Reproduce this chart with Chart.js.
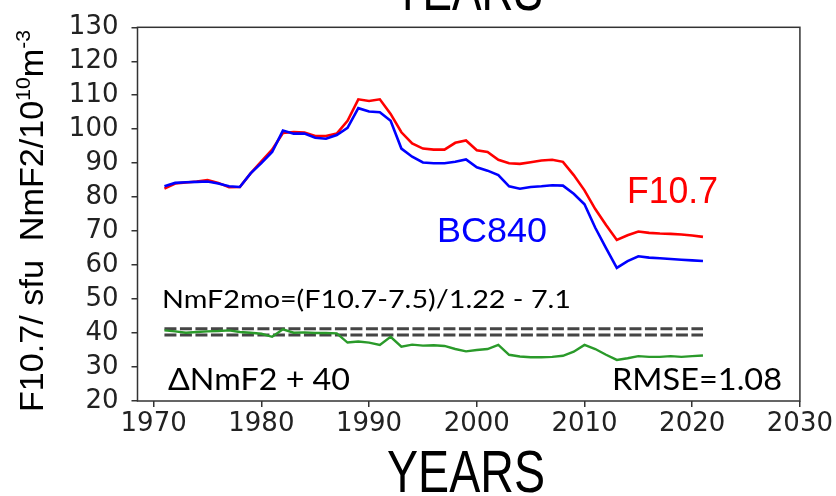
<!DOCTYPE html>
<html>
<head>
<meta charset="utf-8">
<script src="https://cdn.jsdelivr.net/npm/chart.js@4.4.1/dist/chart.umd.min.js"></script>
<style>
  html, body { margin: 0; padding: 0; background: #fff; }
  canvas { display: block; }
</style>
</head>
<body>
<canvas id="nmf2Chart" width="836" height="496"></canvas>
<script>
'use strict';

// yearly values
const years = [1971, 1972, 1973, 1974, 1975, 1976, 1977, 1978, 1979, 1980,
  1981, 1982, 1983, 1984, 1985, 1986, 1987, 1988, 1989, 1990,
  1991, 1992, 1993, 1994, 1995, 1996, 1997, 1998, 1999, 2000,
  2001, 2002, 2003, 2004, 2005, 2006, 2007, 2008, 2009, 2010,
  2011, 2012, 2013, 2014, 2015, 2016, 2017, 2018, 2019, 2020, 2021];

const f107Values = [82.5, 84.0, 84.3, 84.6, 85.0, 84.2, 82.9, 83.0, 87.0, 90.5,
  94.0, 98.9, 99.2, 99.0, 98.0, 98.0, 98.7, 102.5, 108.8, 108.3,
  108.8, 104.5, 99.1, 95.8, 94.3, 94.0, 94.0, 96.0, 96.7, 93.8,
  93.3, 91.0, 90.0, 89.8, 90.3, 90.8, 91.0, 90.4, 86.5, 82.0,
  76.5, 71.8, 67.4, 68.8, 69.9, 69.5, 69.3, 69.2, 69.0, 68.7, 68.3];

const bc840Values = [83.2, 84.2, 84.4, 84.5, 84.6, 84.0, 83.2, 83.0, 87.0, 90.0,
  93.3, 99.6, 98.7, 98.7, 97.5, 97.2, 98.3, 100.4, 106.2, 105.2,
  105.0, 102.5, 94.3, 91.9, 90.2, 90.0, 90.0, 90.4, 91.1, 88.8,
  87.8, 86.5, 83.2, 82.5, 83.0, 83.2, 83.5, 83.4, 81.0, 77.9,
  71.0, 65.0, 59.2, 61.2, 62.6, 62.2, 62.0, 61.8, 61.6, 61.4, 61.2];

// NmF2 difference shifted by +40
const deltaValues = [40.8, 40.5, 40.1, 40.3, 40.5, 40.6, 40.8, 40.3, 40.1, 39.8,
  38.9, 41.1, 40.1, 40.2, 40.0, 40.0, 39.9, 37.2, 37.5, 37.2,
  36.5, 38.9, 36.0, 36.6, 36.3, 36.4, 36.2, 35.3, 34.6, 35.0,
  35.3, 36.5, 33.6, 33.1, 32.9, 32.9, 33.0, 33.3, 34.5, 36.5,
  35.3, 33.6, 32.1, 32.6, 33.2, 33.0, 33.0, 33.2, 33.0, 33.2, 33.4];

// reference band around 40
const refYears = [1971, 2021];
const refUpper = [41.3, 41.3];
const refLower = [39.4, 39.4];

const xTicks = [1970, 1980, 1990, 2000, 2010, 2020, 2030];
const yTicks = [20, 30, 40, 50, 60, 70, 80, 90, 100, 110, 120, 130];

function toPoints(xs, ys) {
  return xs.map((x, i) => ({ x: x, y: ys[i] }));
}

// draw text squeezed/stretched to a given width
function fitText(ctx, text, left, baseline, width) {
  const w = ctx.measureText(text).width;
  ctx.save();
  ctx.translate(left, baseline);
  ctx.scale(width / w, 1);
  ctx.textAlign = 'left';
  ctx.textBaseline = 'alphabetic';
  ctx.fillText(text, 0, 0);
  ctx.restore();
}

const figureText = {
  id: 'figureText',
  afterDraw(chart) {
    const ctx = chart.ctx;
    const a = chart.chartArea;
    ctx.save();

    // axes frame
    ctx.strokeStyle = '#333';
    ctx.lineWidth = 1.5;
    ctx.strokeRect(a.left, a.top, a.right - a.left, a.bottom - a.top);

    // titles
    ctx.fillStyle = '#000';
    ctx.font = '60px "Liberation Sans", Arial, sans-serif';
    fitText(ctx, 'YEARS', 393, 10, 150);
    fitText(ctx, 'YEARS', 387, 492, 158);

    // series names
    ctx.font = '37px "Liberation Sans", Arial, sans-serif';
    ctx.fillStyle = '#ff0000';
    fitText(ctx, 'F10.7', 627, 203, 91);
    ctx.font = '35px "Liberation Sans", Arial, sans-serif';
    ctx.fillStyle = '#0000ff';
    fitText(ctx, 'BC840', 437, 242, 110);

    // formula and stats
    ctx.fillStyle = '#000';
    ctx.font = '25px Lato, "Open Sans", sans-serif';
    fitText(ctx, 'NmF2mo=(F10.7-7.5)/1.22 - 7.1', 162, 308, 409);
    ctx.font = '30px Lato, "Open Sans", sans-serif';
    fitText(ctx, '\u0394NmF2 + 40', 168, 390, 182);
    fitText(ctx, 'RMSE=1.08', 612, 390, 170);

    // rotated y label with superscripts
    const parts = [
      { t: 'F10.7/ sfu  NmF2/10', size: 34, rise: 0 },
      { t: '10', size: 21, rise: -13 },
      { t: 'm', size: 34, rise: 0 },
      { t: '-3', size: 21, rise: -13 }
    ];
    let total = 0;
    parts.forEach(p => {
      ctx.font = p.size + 'px "Liberation Sans", Arial, sans-serif';
      p.w = ctx.measureText(p.t).width;
      total += p.w;
    });
    ctx.translate(43, 412);
    ctx.rotate(-Math.PI / 2);
    ctx.scale(382 / total, 1);
    ctx.textAlign = 'left';
    ctx.textBaseline = 'alphabetic';
    let pos = 0;
    parts.forEach(p => {
      ctx.font = p.size + 'px "Liberation Sans", Arial, sans-serif';
      ctx.fillText(p.t, pos, p.rise);
      pos += p.w;
    });

    ctx.restore();
  }
};

const tickFont = { family: '"DejaVu Sans", sans-serif', size: 26, lineHeight: 1.1 };

new Chart(document.getElementById('nmf2Chart'), {
  type: 'line',
  data: {
    datasets: [
      {
        label: 'BC840',
        data: toPoints(years, bc840Values),
        borderColor: '#0000ff',
        borderWidth: 2.6,
        order: 0
      },
      {
        label: 'F10.7',
        data: toPoints(years, f107Values),
        borderColor: '#ff0000',
        borderWidth: 2.6,
        order: 1
      },
      {
        label: 'dNmF2+40',
        data: toPoints(years, deltaValues),
        borderColor: '#2a9a2a',
        borderWidth: 2.4,
        order: 2
      },
      {
        label: 'upper',
        data: toPoints(refYears, refUpper),
        borderColor: '#454545',
        borderWidth: 3,
        borderDash: [12, 3.5],
        order: 3
      },
      {
        label: 'lower',
        data: toPoints(refYears, refLower),
        borderColor: '#454545',
        borderWidth: 3,
        borderDash: [12, 3.5],
        order: 3
      }
    ]
  },
  options: {
    responsive: false,
    animation: false,
    layout: { padding: { top: 22, right: 35, left: 0, bottom: 0 } },
    elements: {
      point: { radius: 0 },
      line: { tension: 0, fill: false, borderCapStyle: 'butt' }
    },
    plugins: {
      legend: { display: false },
      tooltip: { enabled: false }
    },
    scales: {
      x: {
        type: 'linear',
        min: 1968.5,
        max: 2030,
        afterFit: s => { s.height = 95; },
        afterBuildTicks: s => { s.ticks = xTicks.map(v => ({ value: v })); },
        border: { display: false },
        grid: { drawOnChartArea: false, drawTicks: true, tickLength: 6, color: '#333', lineWidth: 1.5 },
        ticks: { font: tickFont, color: '#222', padding: 3, maxRotation: 0, autoSkip: false, callback: v => String(v) }
      },
      y: {
        min: 20,
        max: 130,
        afterFit: s => { s.width = 137.5; },
        afterBuildTicks: s => { s.ticks = yTicks.map(v => ({ value: v })); },
        border: { display: false },
        grid: { drawOnChartArea: false, drawTicks: true, tickLength: 6, color: '#333', lineWidth: 1.5 },
        ticks: { font: tickFont, color: '#222', padding: 13, autoSkip: false, callback: v => String(v) }
      }
    }
  },
  plugins: [figureText]
});
</script>
</body>
</html>
